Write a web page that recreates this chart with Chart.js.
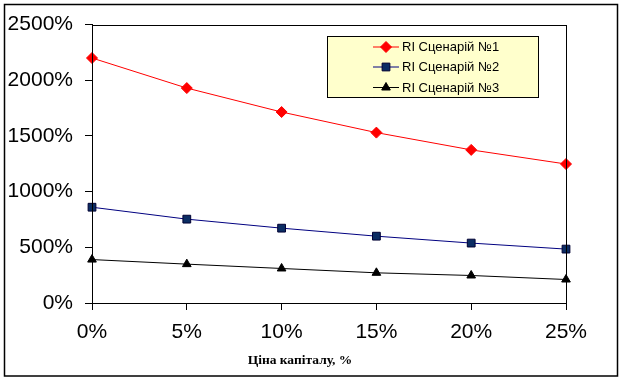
<!DOCTYPE html>
<html>
<head>
<meta charset="utf-8">
<script src="https://cdn.jsdelivr.net/npm/chart.js@4/dist/chart.umd.min.js"></script>
<style>
html,body{margin:0;padding:0;background:#fff;}
#wrap{width:623px;height:380px;position:relative;}
</style>
</head>
<body>
<div id="wrap"><canvas id="c" width="623" height="380"></canvas></div>
<script>
const categories = ['0%', '5%', '10%', '15%', '20%', '25%'];
const seriesNames = ['RI Сценарій №1', 'RI Сценарій №2', 'RI Сценарій №3'];
const scenario1 = [2200, 1930, 1715, 1530, 1375, 1248];
const scenario2 = [860, 753, 672, 600, 538, 484];
const scenario3 = [390, 349, 310, 271, 247, 211];
const yTicks = [0, 500, 1000, 1500, 2000, 2500];
const xAxisTitle = 'Ціна капіталу, %';

const FONT = '"Liberation Sans", Arial, sans-serif';

const framePlugin = {
  id: 'frame',
  afterDraw(chart) {
    const ctx = chart.ctx, a = chart.chartArea;
    ctx.save();
    ctx.strokeStyle = '#000';
    ctx.lineWidth = 1.5;
    ctx.strokeRect(4.5, 4.5, 613, 371.5);
    ctx.lineWidth = 1;
    ctx.strokeRect(Math.round(a.left) + 0.5, Math.round(a.top) + 0.5, Math.round(a.right - a.left), Math.round(a.bottom - a.top));
    ctx.fillStyle = '#000';
    ctx.font = 'bold 13.5px "Liberation Serif", "Times New Roman", serif';
    ctx.textAlign = 'center';
    ctx.textBaseline = 'middle';
    ctx.fillText(xAxisTitle, 300, 361);
    const lx = 327, ly = 36, lw = 211, lh = 61;
    ctx.fillStyle = '#FFFFCC';
    ctx.fillRect(lx, ly, lw, lh);
    ctx.strokeStyle = '#000';
    ctx.strokeRect(lx + 0.5, ly + 0.5, lw, lh);
    const rows = [46.5, 66.5, 87];
    chart.data.datasets.forEach((ds, i) => {
      const y = rows[i];
      ctx.strokeStyle = ds.borderColor;
      ctx.lineWidth = 1;
      ctx.beginPath();
      ctx.moveTo(373, y + 0.5);
      ctx.lineTo(399, y + 0.5);
      ctx.stroke();
      ctx.fillStyle = ds.pointBackgroundColor;
      ctx.strokeStyle = ds.pointBorderColor;
      Chart.helpers.drawPoint(ctx, {
        pointStyle: ds.pointStyle,
        rotation: 0,
        radius: ds.pointRadius,
        borderWidth: ds.pointBorderWidth
      }, 386, y + 0.5);
      ctx.fillStyle = '#000';
      ctx.font = '13px ' + FONT;
      ctx.textAlign = 'left';
      ctx.textBaseline = 'middle';
      ctx.fillText(ds.label, 402, y + 1);
    });
    ctx.restore();
  }
};

const datasets = [
  { label: seriesNames[0], data: scenario1, borderColor: '#FF0000', backgroundColor: '#FF0000',
    pointStyle: 'rectRot', pointRadius: 5.5, pointBorderWidth: 1, pointBorderColor: '#FF0000', pointBackgroundColor: '#FF0000' },
  { label: seriesNames[1], data: scenario2, borderColor: '#000080', backgroundColor: '#0B2D63',
    pointStyle: 'rect', pointRadius: 5.5, pointBorderWidth: 1, pointBorderColor: '#000033', pointBackgroundColor: '#0B2D63' },
  { label: seriesNames[2], data: scenario3, borderColor: '#000000', backgroundColor: '#000000',
    pointStyle: 'triangle', pointRadius: 5, pointBorderWidth: 1, pointBorderColor: '#000000', pointBackgroundColor: '#000000' }
];
datasets.forEach(d => { d.borderWidth = 1; d.tension = 0; d.fill = false; d.pointHoverRadius = d.pointRadius; });

new Chart(document.getElementById('c'), {
  type: 'line',
  data: { labels: categories, datasets: datasets },
  plugins: [framePlugin],
  options: {
    responsive: false,
    animation: false,
    events: [],
    layout: { padding: { left: 0, top: 24, right: 57, bottom: 0 } },
    plugins: { legend: { display: false }, tooltip: { enabled: false }, title: { display: false } },
    scales: {
      x: {
        type: 'category',
        offset: false,
        afterFit(s) { s.height = 77; },
        grid: { display: true, drawOnChartArea: false, drawTicks: true, tickLength: 7, color: '#000', lineWidth: 1 },
        border: { display: true, color: '#000', width: 1 },
        ticks: { color: '#000', font: { family: FONT, size: 21 }, padding: 10, maxRotation: 0, autoSkip: false }
      },
      y: {
        min: 0, max: 2500,
        afterFit(s) { s.width = 92; },
        afterBuildTicks(s) { s.ticks = yTicks.map(v => ({ value: v })); },
        grid: { display: true, drawOnChartArea: false, drawTicks: true, tickLength: 7, color: '#000', lineWidth: 1 },
        border: { display: true, color: '#000', width: 1 },
        ticks: { color: '#000', font: { family: FONT, size: 21 }, padding: 12, callback: v => v + '%' }
      }
    }
  }
});
</script>
</body>
</html>
